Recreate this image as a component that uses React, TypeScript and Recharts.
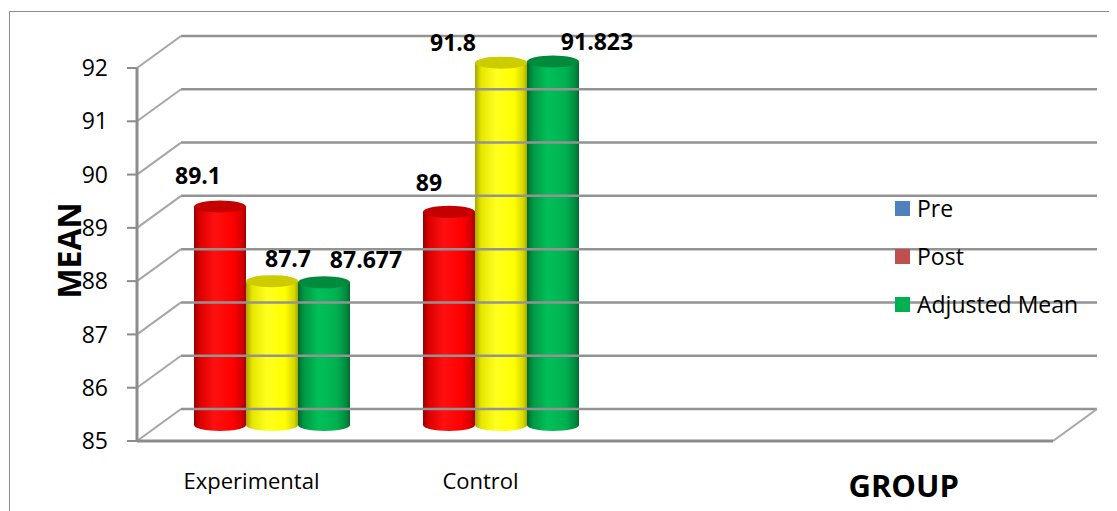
import React from 'react';
import { BarChart, Bar, XAxis, YAxis, ReferenceLine, Legend, LabelList } from 'recharts';

const categories = ['Experimental', 'Control', '', ' '];
const preValues = [89.1, 89, null, null];
const postValues = [87.7, 91.8, null, null];
const adjustedValues = [87.677, 91.823, null, null];
const yTicks = [85, 86, 87, 88, 89, 90, 91, 92];
const seriesNames = ['Pre', 'Post', 'Adjusted Mean'];
const legendColors = ['#4f81bd', '#c0504d', '#00b050'];

// label nudges (pixels) per series, per category, as placed in the original
const labelNudgeX = { pre: [-22, -20], post: [16, -48], adj: [42, 44] };
const labelNudgeUp = { pre: [39, 37], post: [30, 28], adj: [30, 27] };

const data = categories.map((c, i) => ({
  name: c,
  pre: preValues[i],
  post: postValues[i],
  adj: adjustedValues[i],
}));

const FONT = '"Open Sans", sans-serif';
const DX = 44;
const DY = -32;
const BAR_DX = 20;
const BAR_DY = -16;

const gridShape = (isFloor: boolean) => (props: any) => {
  const { x1, y1, x2 } = props;
  const bx1 = x1 + DX;
  const bx2 = x2 + DX;
  const by = y1 + DY;
  return (
    <g>
      <line x1={x1} y1={y1} x2={bx1} y2={by} stroke="#a6a6a6" strokeWidth={2} />
      <line x1={bx1} y1={by} x2={bx2} y2={by} stroke="#939393" strokeWidth={2.5} />
      {isFloor && <line x1={x2} y1={y1} x2={bx2} y2={by} stroke="#a6a6a6" strokeWidth={2} />}
    </g>
  );
};

const makeCylinder = (id: string, topColor: string) => (props: any) => {
  const { x, y, width, height, value } = props;
  if (value == null || !(height > 0)) return null;
  const rx = width / 2;
  const ry = 6;
  const cx = x + rx + BAR_DX;
  const top = y + BAR_DY;
  const bottom = y + height + BAR_DY;
  return (
    <g>
      <ellipse cx={cx} cy={bottom} rx={rx} ry={ry} fill={`url(#${id})`} />
      <rect x={x + BAR_DX} y={top} width={width} height={bottom - top} fill={`url(#${id})`} />
      <ellipse cx={cx} cy={top} rx={rx} ry={ry} fill={topColor} />
    </g>
  );
};

const makeLabel = (key: 'pre' | 'post' | 'adj') => (props: any) => {
  const { x, y, width, value, index } = props;
  if (value == null) return null;
  const dx = labelNudgeX[key][index] ?? 0;
  const up = labelNudgeUp[key][index] ?? 30;
  return (
    <text
      x={x + width / 2 + BAR_DX + dx}
      y={y - up}
      textAnchor="middle"
      fontFamily={FONT}
      fontWeight={700}
      fontSize={23}
      fill="#000"
    >
      {value}
    </text>
  );
};

const XTick = (props: any) => {
  const { x, y, payload } = props;
  return (
    <text x={x} y={y + 48} textAnchor="middle" fontFamily={FONT} fontSize={22} fill="#000">
      {payload.value}
    </text>
  );
};

const LegendContent = (props: any) => {
  const payload = [...(props.payload || [])].sort(
    (a: any, b: any) => seriesNames.indexOf(a.value) - seriesNames.indexOf(b.value)
  );
  return (
    <div style={{ fontFamily: FONT, fontSize: 23, color: '#000' }}>
      {payload.map((p: any, i: number) => (
        <div key={i} style={{ display: 'flex', alignItems: 'center', height: 48 }}>
          <span
            style={{
              display: 'inline-block',
              width: 15,
              height: 15,
              background: legendColors[seriesNames.indexOf(p.value)],
              marginRight: 7,
            }}
          />
          <span style={{ lineHeight: '24px' }}>{p.value}</span>
        </div>
      ))}
    </div>
  );
};

export default function App() {
  return (
    <div style={{ position: 'relative', width: 1109, height: 503, overflow: 'hidden', background: '#fff' }}>
      <div
        style={{
          position: 'absolute',
          left: 1,
          top: 3,
          width: 1200,
          height: 600,
          border: '1.5px solid #8c8c8c',
        }}
      />
      <div style={{ position: 'absolute', left: 0, top: 0 }}>
        <BarChart
          width={1109}
          height={503}
          data={data}
          margin={{ top: 60, right: 64, left: 0, bottom: 0 }}
          barSize={52}
          barGap={0}
        >
          <defs>
            <linearGradient id="gRed" x1="0" y1="0" x2="1" y2="0">
              <stop offset="0%" stopColor="#9a0000" />
              <stop offset="12%" stopColor="#dd0000" />
              <stop offset="40%" stopColor="#ff1010" />
              <stop offset="75%" stopColor="#ff0000" />
              <stop offset="93%" stopColor="#d40000" />
              <stop offset="100%" stopColor="#a00000" />
            </linearGradient>
            <linearGradient id="gYellow" x1="0" y1="0" x2="1" y2="0">
              <stop offset="0%" stopColor="#a8a800" />
              <stop offset="12%" stopColor="#e6e600" />
              <stop offset="40%" stopColor="#ffff20" />
              <stop offset="75%" stopColor="#ffff00" />
              <stop offset="93%" stopColor="#d6d600" />
              <stop offset="100%" stopColor="#a8a800" />
            </linearGradient>
            <linearGradient id="gGreen" x1="0" y1="0" x2="1" y2="0">
              <stop offset="0%" stopColor="#006a2e" />
              <stop offset="12%" stopColor="#009a45" />
              <stop offset="40%" stopColor="#00c058" />
              <stop offset="75%" stopColor="#00b050" />
              <stop offset="93%" stopColor="#008a3e" />
              <stop offset="100%" stopColor="#006a2e" />
            </linearGradient>
          </defs>
          {yTicks.map((t) => (
            <ReferenceLine key={t} y={t} shape={gridShape(t === yTicks[0])} ifOverflow="visible" />
          ))}
          <XAxis
            dataKey="name"
            height={70}
            tickLine={false}
            tickSize={0}
            tickMargin={0}
            axisLine={{ stroke: '#8c8c8c', strokeWidth: 3 }}
            tick={<XTick />}
            interval={0}
            label={{
              content: (p: any) => {
                const vb = p.viewBox;
                return (
                  <text
                    x={vb.x + vb.width * 0.837}
                    y={vb.y + 56}
                    textAnchor="middle"
                    fontFamily={FONT}
                    fontWeight={700}
                    fontSize={31}
                    fill="#000"
                  >
                    GROUP
                  </text>
                );
              },
            }}
          />
          <YAxis
            type="number"
            domain={[85, 92]}
            ticks={yTicks}
            interval={0}
            width={129}
            tickSize={10}
            tickMargin={19}
            tickLine={{ stroke: '#8c8c8c', strokeWidth: 2 }}
            axisLine={{ stroke: '#8c8c8c', strokeWidth: 3 }}
            tick={{ fontFamily: FONT, fontSize: 23, fill: '#000' }}
            label={{
              content: (p: any) => {
                const vb = p.viewBox;
                const cx = vb.x + 60;
                const cy = vb.y + vb.height / 2 - 4;
                return (
                  <text
                    x={cx}
                    y={cy}
                    transform={`rotate(-90 ${cx} ${cy})`}
                    textAnchor="middle"
                    dominantBaseline="central"
                    fontFamily={FONT}
                    fontWeight={700}
                    fontSize={32}
                    fill="#000"
                  >
                    MEAN
                  </text>
                );
              },
            }}
          />
          <Legend
            layout="vertical"
            align="center"
            verticalAlign="middle"
            content={<LegendContent />}
            wrapperStyle={{ position: 'absolute', left: 887, top: 176, width: 220 }}
          />
          <Bar dataKey="pre" name={seriesNames[0]} fill={legendColors[0]} shape={makeCylinder('gRed', '#c40000')} isAnimationActive={false}>
            <LabelList dataKey="pre" content={makeLabel('pre')} />
          </Bar>
          <Bar dataKey="post" name={seriesNames[1]} fill={legendColors[1]} shape={makeCylinder('gYellow', '#cccc00')} isAnimationActive={false}>
            <LabelList dataKey="post" content={makeLabel('post')} />
          </Bar>
          <Bar dataKey="adj" name={seriesNames[2]} fill={legendColors[2]} shape={makeCylinder('gGreen', '#008a3e')} isAnimationActive={false}>
            <LabelList dataKey="adj" content={makeLabel('adj')} />
          </Bar>
        </BarChart>
      </div>
    </div>
  );
}
